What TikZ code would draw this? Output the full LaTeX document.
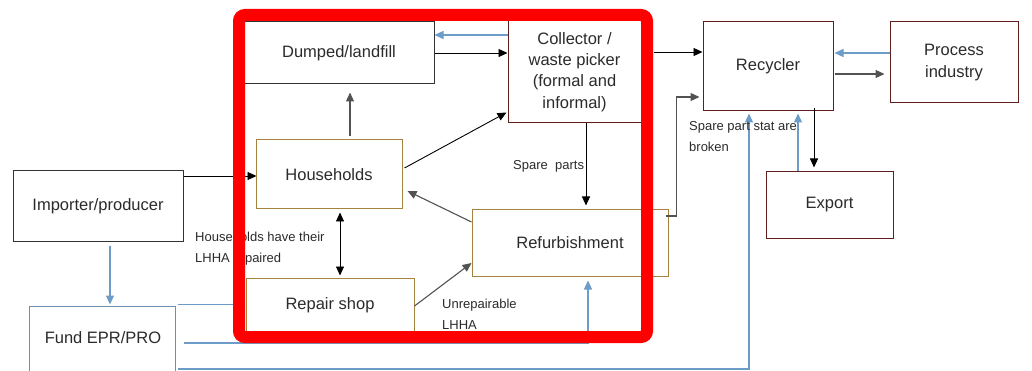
\documentclass[tikz,border=0pt]{standalone}
\usepackage{fontspec}
\setmainfont{Liberation Sans}
\usetikzlibrary{arrows.meta,calc}
\definecolor{txt}{HTML}{2B2B2B}
\definecolor{maroon}{HTML}{5E1E1E}
\definecolor{gold}{HTML}{A5823F}
\definecolor{steel}{HTML}{6E9CC8}
\definecolor{fundblue}{HTML}{6F8FB0}
\definecolor{darkline}{HTML}{333333}
\tikzset{
  box/.style={draw, line width=1pt, inner sep=0pt, align=center, text=txt,
    font=\fontsize{16.5}{21.3}\selectfont},
  graybox/.style={box, draw=darkline},
  maroonbox/.style={box, draw=maroon},
  goldbox/.style={box, draw=gold},
  fundbox/.style={box, draw=fundblue},
  blk/.style={draw=black, line width=0.9pt, -{Triangle[length=9pt,width=8pt]}},
  blkboth/.style={draw=black, line width=0.9pt, {Triangle[length=9pt,width=8pt]}-{Triangle[length=9pt,width=8pt]}},
  gry/.style={draw=darkline!85, line width=1.1pt, -{Triangle[length=9pt,width=8pt]}},
  blu/.style={draw=steel!80, line width=1.3pt, -{Triangle[length=9pt,width=8pt]}, color=steel},
  lbl/.style={inner sep=0pt, anchor=west, align=left, text=txt,
    font=\fontsize{13}{21}\selectfont},
  redframe/.style={draw=red, line width=12pt, rounded corners=6pt, inner sep=0pt}
}
\begin{document}
\begin{tikzpicture}[x=1pt,y=-1pt]
\useasboundingbox (0,0) rectangle (1032,371);
\clip (0,0) rectangle (1032,371);
\fill[white] (0,0) rectangle (1032,371);
% nodes
\node[graybox, minimum width=190pt, minimum height=62pt] (dumped) at (339,53) {Dumped/landfill};
\node[maroonbox, minimum width=133pt, minimum height=102pt] (coll) at (574.5,72) {Collector /\\waste picker\\(formal and\\informal)};
\node[maroonbox, minimum width=130pt, minimum height=89pt] (recy) at (768,66.5) {Recycler};
\node[maroonbox, minimum width=128pt, minimum height=81pt] (proc) at (954,62.5) {Process\\industry};
\node[maroonbox, minimum width=127pt, minimum height=66pt] (export) at (829.5,205) {Export};
\node[goldbox, minimum width=146pt, minimum height=69pt] (house) at (329,174.5) {Households};
\node[goldbox, minimum width=196pt, minimum height=66pt] (refurb) at (570,243) {Refurbishment};
\node[goldbox, minimum width=168pt, minimum height=55pt] (repair) at (330,305.5) {Repair shop};
\node[graybox, minimum width=170pt, minimum height=70pt] (imp) at (98,206) {Importer/producer};
\node[fundbox, minimum width=146pt, minimum height=74pt] (fund) at (102,343) {};
\node[inner sep=0pt, text=txt, font=\fontsize{16.5}{21.3}\selectfont] (fundtxt) at (103,338) {Fund EPR/PRO};
% labels
\node[lbl] (lspare) at (513,166) {Spare\ \ parts};
\node[lbl] (lhh) at (195,249) {Households have their\\LHHA repaired};
\node[lbl] (lunrep) at (442,314.5) {Unrepairable\\LHHA};
% helper coordinates
\coordinate (f1) at ($(fund.north east)+(2,-1)$);
% blue lines
\draw[blu] ($(imp.south)+(12,4)$) -- ($(fund.north)+(8,-1)$);
\draw[blu] (f1) -- (repair.west |- f1);
\draw[blu] ($(fund.east)+(8,0)$) -| ($(refurb.south)+(18,4)$);
\draw[blu] ($(fund.east)+(2,26)$) -| ($(recy.south)+(-19,2)$);
\draw[blu] ($(export.north)+(-31.5,0)$) -- ($(recy.south)+(30,2)$);
\draw[blu] ($(proc.west)+(0,-9.5)$) -- ($(recy.east)+(1,-13.5)$);
\draw[blu] ($(coll.west)+(0,-37)$) -- ($(dumped.east)+(0,-18)$);
\node[lbl] (lbroken) at (689,136.5) {Spare part stat are\\broken};
% black arrows
\draw[blk] (dumped.east) -- (coll.west |- dumped.east);
\draw[gry] ($(house.north)+(21,-3)$) -- ($(dumped.south)+(11,8)$);
\draw[blk] ($(house.east)+(2,-6.5)$) -- ($(coll.south west)+(-1,-11)$);
\draw[blk] ($(coll.east)+(12,-20)$) -- ($(recy.west)+(0,-14.5)$);
\draw[gry] ($(refurb.east)+(-3,-27)$) -| ($(recy.west)+(-26,30.5)$) -- ($(recy.west)+(-3,30.5)$);
\draw[gry] ($(recy.east)+(1,7.5)$) -- ($(proc.west)+(-5,11.5)$);
\draw[blk] ($(recy.south)+(46,-3)$) -- ($(export.north)+(-15.5,-4)$);
\draw[blk] ($(coll.south)+(11.5,0)$) -- ($(refurb.north)+(16,-4)$);
\draw[gry] ($(refurb.west)+(0,-21)$) -- ($(house.east)+(5,16.5)$);
\draw[blkboth] ($(house.south)+(11,3)$) -- ($(repair.north)+(10,-2)$);
\draw[gry] ($(repair.east)+(0,0.5)$) -- ($(refurb.west)+(0,20)$);
\draw[blk] ($(imp.east)+(0,-30)$) -- ($(house.west)+(1,1.5)$);
% red frame
\node[redframe, minimum width=408pt, minimum height=322pt] (frame) at (443,176) {};
\end{tikzpicture}
\end{document}
